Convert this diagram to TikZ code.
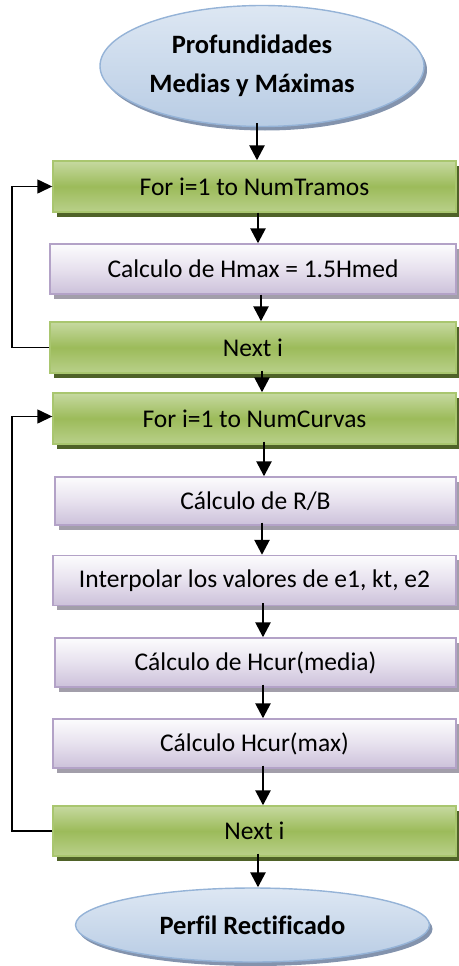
\documentclass[tikz,border=0pt]{standalone}
\usepackage{fontspec}
\setmainfont[Ligatures=NoCommon]{Carlito}
\usetikzlibrary{arrows.meta,shadows,shapes.geometric}

\definecolor{grnTop}{HTML}{C6D9A0}
\definecolor{grnMid}{HTML}{9CBB5A}
\definecolor{grnBot}{HTML}{B9D08A}
\definecolor{grnEdge}{HTML}{A9C66F}
\definecolor{grnShadow}{HTML}{4F6228}
\definecolor{lavTop}{HTML}{FCFCFD}
\definecolor{lavMid}{HTML}{E7E1EE}
\definecolor{lavBot}{HTML}{CCC1DA}
\definecolor{lavEdge}{HTML}{B3A2C7}
\definecolor{lavShadow}{HTML}{A29EAA}
\definecolor{bluTop}{HTML}{DDE7F3}
\definecolor{bluBot}{HTML}{B8CCE4}
\definecolor{bluEdge}{HTML}{95B3D7}
\definecolor{bluShadow}{HTML}{8393AD}

\tikzset{
  loopbox/.style={draw=grnEdge, line width=1.4pt, top color=grnTop, bottom color=grnBot,
    middle color=grnMid, minimum height=51pt, inner sep=0pt,
    font=\fontsize{25.5}{29}\selectfont,
    drop shadow={shadow xshift=4pt, shadow yshift=-4.5pt, fill=grnShadow, opacity=1}},
  procbox/.style={draw=lavEdge, line width=1.4pt, top color=lavTop, bottom color=lavBot,
    middle color=lavMid, minimum height=50pt, inner sep=0pt,
    font=\fontsize{25.5}{29}\selectfont,
    drop shadow={shadow xshift=4pt, shadow yshift=-4.5pt, fill=lavShadow, opacity=1}},
  terminal/.style={ellipse, draw=bluEdge, line width=1.4pt, top color=bluTop, bottom color=bluBot,
    inner sep=0pt, align=center, font=\fontsize{26.5}{39}\selectfont\bfseries,
    drop shadow={shadow xshift=3pt, shadow yshift=-4pt, fill=bluShadow, opacity=1}},
  flow/.style={line width=2.6pt, -{Triangle[width=15pt,length=15pt]}},
  back/.style={line width=1.4pt, -{Triangle[width=14pt,length=15pt]}}
}

% vertical connector between two nodes at a given horizontal position
\newcommand{\flowlink}[3]{\draw[flow] (#1.south -| #3,0) -- (#2.north -| #3,0);}
% title text sits a little left of the ellipse centre
\newcommand{\padright}{\hspace*{20pt}}

\begin{document}
\begin{tikzpicture}[x=1pt, y=-1pt]
  \useasboundingbox (0,0) rectangle (458,966);

  % start and end terminals
  \node[terminal, minimum width=324pt, minimum height=121pt] (start) at (262,66)
    {Profundidades\padright\\Medias y Máximas\padright};

  % first loop over the stretches
  \node[loopbox, minimum width=403pt] (fortramos) at (254.5,186.5) {For i=1 to NumTramos};
  \node[procbox, minimum width=406pt] (hmax) at (253,269) {Calculo de Hmax = 1.5Hmed};
  \node[loopbox, minimum width=406pt] (nexta) at (253,347.5) {Next i};

  % second loop over the curves
  \node[loopbox, minimum width=403pt] (forcurvas) at (254.5,418.5) {For i=1 to NumCurvas};
  \node[procbox, minimum width=401pt, minimum height=48pt] (rb) at (255.5,501) {Cálculo de R/B};
  \node[procbox, minimum width=403pt] (interp) at (254.5,580.5) {Interpolar los valores de e1, kt, e2};
  \node[procbox, minimum width=401pt, minimum height=49pt] (hmedia) at (255.5,662.5) {Cálculo de Hcur(media)};
  \node[procbox, minimum width=403pt, minimum height=49pt] (hcurmax) at (254.5,743.5) {Cálculo Hcur(max)};
  \node[loopbox, minimum width=403pt, minimum height=50pt] (nextb) at (254.5,831) {Next i};

  \node[terminal, minimum width=354pt, minimum height=74pt] (stop) at (252.5,925) {Perfil Rectificado};

  % main flow
  \draw[flow] ([yshift=4pt]start.south -| 257,0) -- (fortramos.north -| 257,0);
  \flowlink{fortramos}{hmax}{258}
  \flowlink{hmax}{nexta}{261}
  \draw[flow] ([yshift=3pt]nexta.south -| 262,0) -- (forcurvas.north -| 262,0);
  \draw[flow] ([yshift=3pt]forcurvas.south -| 264,0) -- (rb.north -| 264,0);
  \draw[flow] ([yshift=3pt]rb.south -| 262,0) -- (interp.north -| 262,0);
  \draw[flow] ([yshift=3pt]interp.south -| 263,0) -- (hmedia.north -| 263,0);
  \draw[flow] ([yshift=3pt]hmedia.south -| 263,0) -- (hcurmax.north -| 263,0);
  \draw[flow] ([yshift=3pt]hcurmax.south -| 263,0) -- (nextb.north -| 263,0);
  \draw[flow] ([yshift=3pt]nextb.south -| 258,0) -- (stop.north -| 258,0);

  % loop-back connectors
  \coordinate (ra) at (12,0);
  \draw[back] (nexta.west) -- (nexta.west -| ra) |- (fortramos.west);
  \draw[back] (nextb.west) -- (nextb.west -| ra) |- ([yshift=2pt]forcurvas.west);
\end{tikzpicture}
\end{document}
